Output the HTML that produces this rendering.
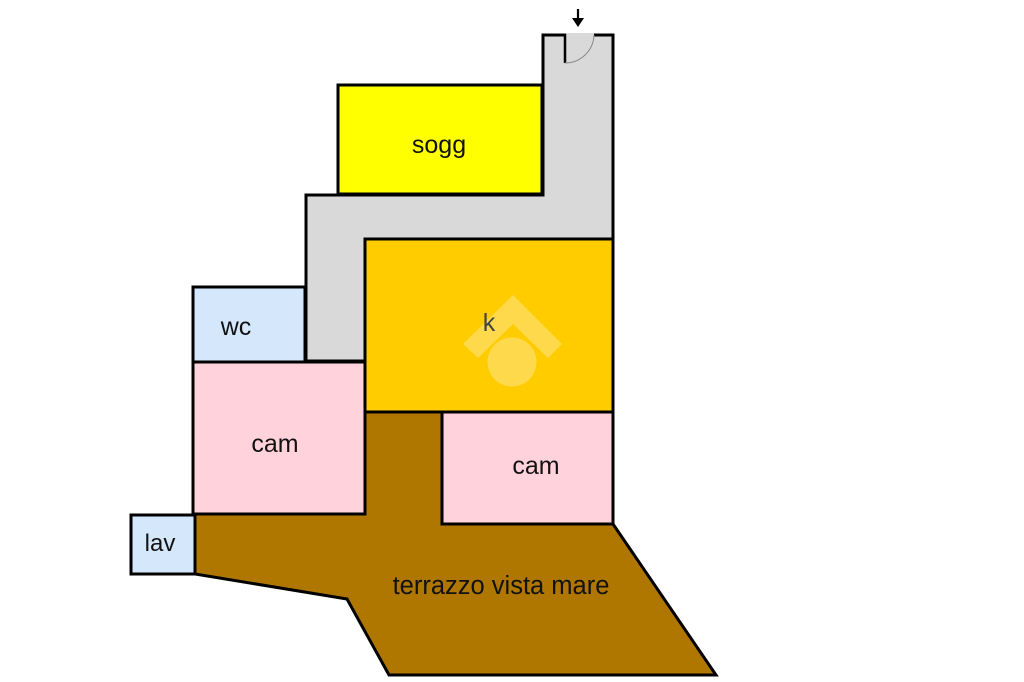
<!DOCTYPE html>
<html>
<head>
<meta charset="utf-8">
<style>
  html,body{margin:0;padding:0;background:#fff;}
  svg{display:block;}
  text{font-family:"Liberation Sans", Arial, sans-serif;fill:#111;}
</style>
</head>
<body>
<svg width="1024" height="682" viewBox="0 0 1024 682" xmlns="http://www.w3.org/2000/svg">
  <rect x="0" y="0" width="1024" height="682" fill="#ffffff"/>

  <!-- terrace -->
  <polygon points="365,411 442,411 442,524 613,524 716,675 389,675 347,599 195,574 195,514 365,514"
           fill="#b07700" stroke="#000" stroke-width="3" stroke-linejoin="miter"/>

  <!-- corridor -->
  <polygon points="543,35 613,35 613,239 365,239 365,361 306,361 306,195 543,195"
           fill="#d9d9d9" stroke="#000" stroke-width="3"/>
  <!-- door opening -->
  <line x1="566" y1="35" x2="594" y2="35" stroke="#d9d9d9" stroke-width="4"/>
  <line x1="565" y1="34" x2="565" y2="63" stroke="#000" stroke-width="2.5"/>
  <path d="M565,63 A29,29 0 0 0 594,35" fill="none" stroke="#888" stroke-width="1"/>
  <!-- entrance arrow -->
  <line x1="578" y1="9" x2="578" y2="20" stroke="#000" stroke-width="2.2"/>
  <polygon points="572,18 584,18 578,27" fill="#000"/>

  <!-- sogg -->
  <rect x="338" y="85" width="204" height="109" fill="#ffff00" stroke="#000" stroke-width="3"/>

  <!-- kitchen -->
  <rect x="365" y="239" width="248" height="173" fill="#ffcc00" stroke="#000" stroke-width="3"/>
  <!-- watermark -->
  <polygon points="513,295 562,344 548,358 513,324 478,358 463,344" fill="#ffd94c"/>
  <circle cx="512" cy="362" r="24.5" fill="#ffd94c"/>

  <!-- wc -->
  <rect x="193" y="287" width="112" height="75" fill="#d5e8fb" stroke="#000" stroke-width="3"/>
  <!-- cam left -->
  <rect x="193" y="362" width="172" height="152" fill="#ffd2dc" stroke="#000" stroke-width="3"/>
  <!-- cam right -->
  <rect x="442" y="412" width="171" height="112" fill="#ffd2dc" stroke="#000" stroke-width="3"/>
  <!-- lav -->
  <rect x="131" y="515" width="64" height="59" fill="#d5e8fb" stroke="#000" stroke-width="3"/>

  <!-- labels -->
  <text x="439" y="153" font-size="25" text-anchor="middle">sogg</text>
  <text x="489" y="331" font-size="25" text-anchor="middle" style="fill:#444">k</text>
  <text x="236" y="335" font-size="25" text-anchor="middle">wc</text>
  <text x="275" y="452" font-size="25" text-anchor="middle">cam</text>
  <text x="536" y="474" font-size="25" text-anchor="middle">cam</text>
  <text x="160" y="551" font-size="24" text-anchor="middle">lav</text>
  <text x="501" y="594" font-size="25.5" text-anchor="middle">terrazzo vista mare</text>
</svg>
</body>
</html>
